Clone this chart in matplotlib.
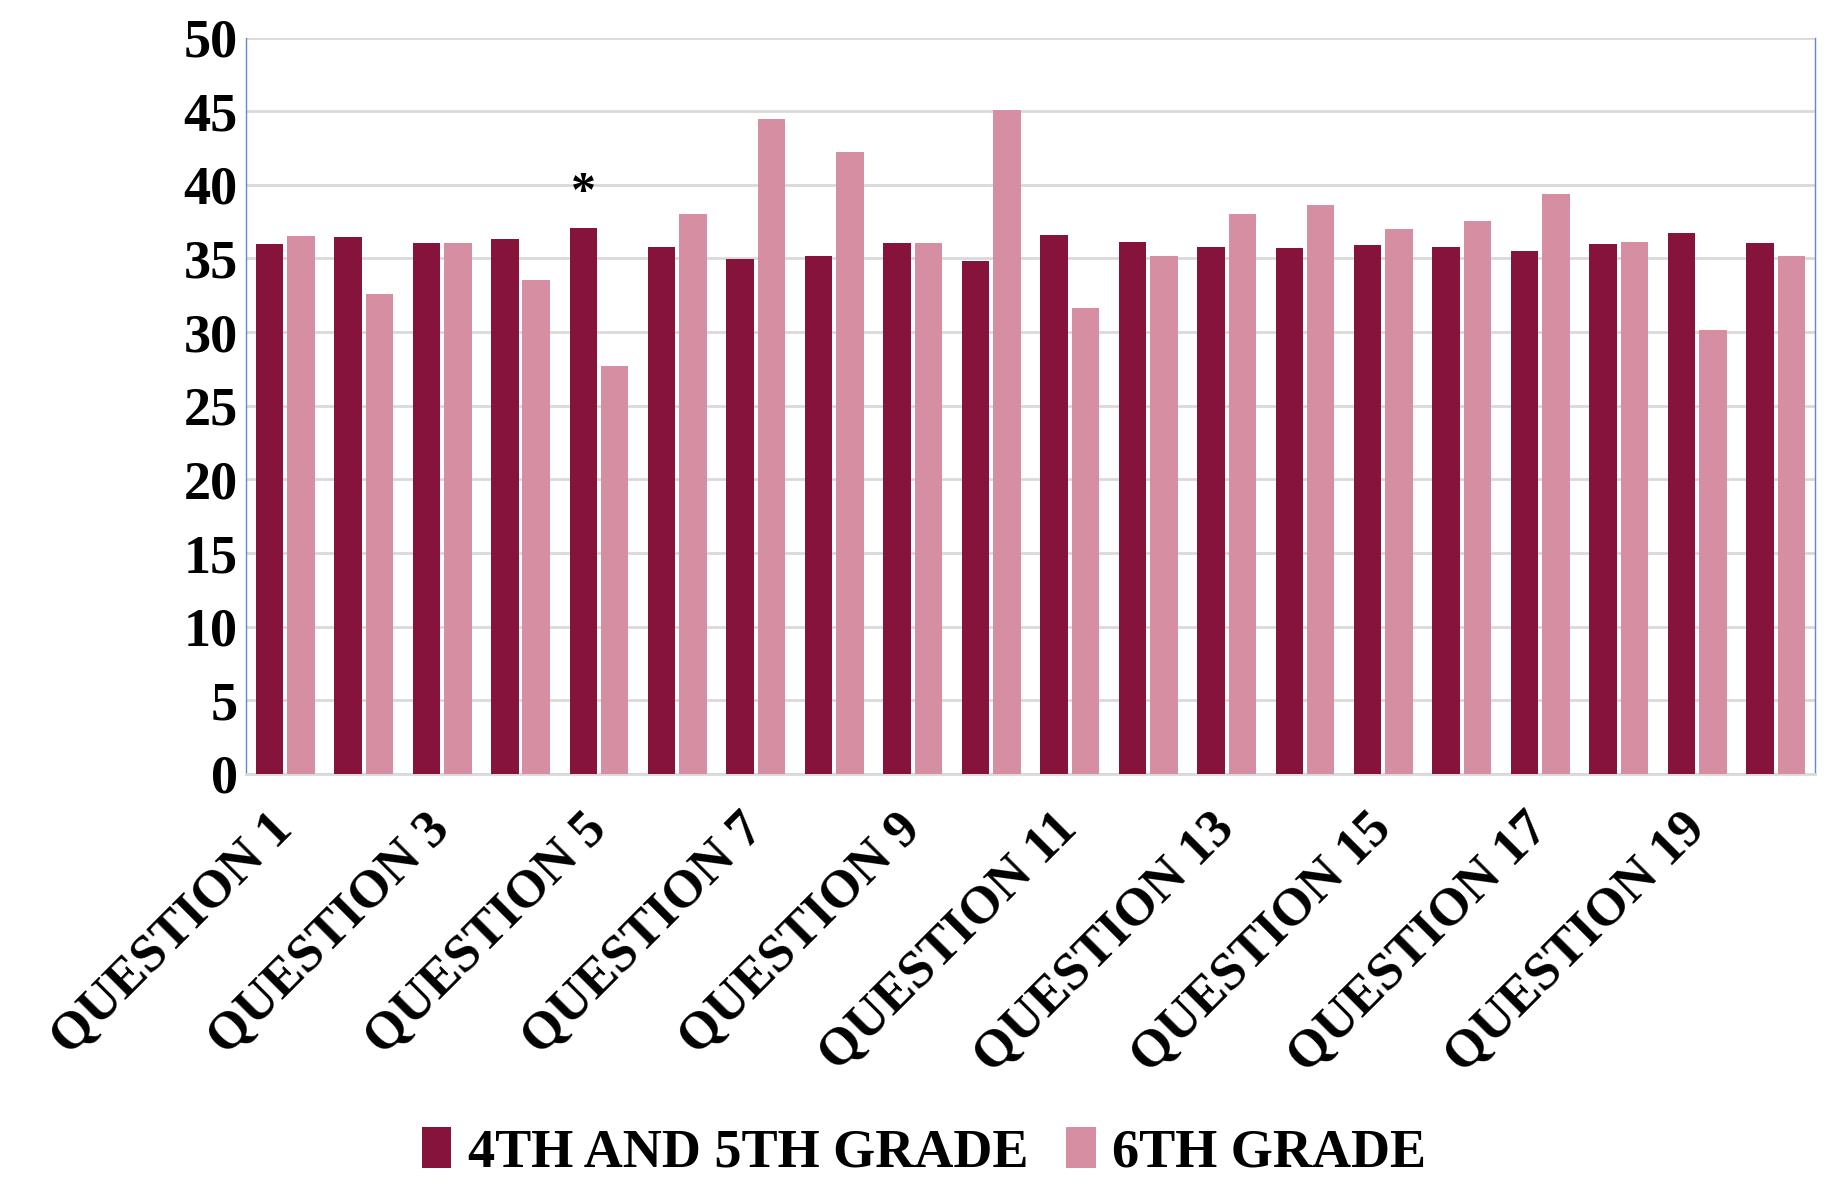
import matplotlib
matplotlib.use("Agg")
import matplotlib.pyplot as plt
import numpy as np

categories = [f"QUESTION {i}" for i in range(1, 21)]
grade_4_5 = [35.95, 36.43, 36.02, 36.29, 37.04, 35.75, 34.93, 35.2, 36.02, 34.86,
             36.56, 36.09, 35.75, 35.68, 35.88, 35.81, 35.54, 36.0, 36.76, 36.07]
grade_6 = [36.5, 32.62, 36.02, 33.57, 27.67, 38.05, 44.5, 42.26, 36.02, 45.05,
           31.61, 35.2, 38.05, 38.6, 36.97, 37.51, 39.41, 36.09, 30.11, 35.2]
series_names = ["4TH AND 5TH GRADE", "6TH GRADE"]
yticks = [0, 5, 10, 15, 20, 25, 30, 35, 40, 45, 50]

c_dark = "#85133B"
c_pink = "#D68EA2"
font = "Liberation Serif"

fig = plt.figure(figsize=(18.48, 11.8), dpi=100)
ax = fig.add_axes([0.1331, 0.3441, 0.9821 - 0.1331, 0.9682 - 0.3441])

x = np.arange(len(categories))
w = 0.35
ax.bar(x - 0.2, grade_4_5, width=w, color=c_dark, label=series_names[0], zorder=3)
ax.bar(x + 0.2, grade_6, width=w, color=c_pink, label=series_names[1], zorder=3)

ax.set_xlim(-0.5, len(categories) - 0.5)
ax.set_ylim(0, 50)
ax.set_yticks(yticks)
ax.set_yticklabels([str(v) for v in yticks], fontfamily=font, fontweight="bold", fontsize=39)
ax.tick_params(axis="y", length=0, pad=6)

ax.set_xticks(x[::2])
ax.set_xticklabels(categories[::2], rotation=45, ha="right", va="center",
                   rotation_mode="anchor", fontfamily=font, fontweight="bold", fontsize=38)
ax.tick_params(axis="x", length=0, pad=34)

ax.grid(axis="y", color="#D9D9D9", linewidth=2, zorder=0)
ax.set_axisbelow(True)
for s in ["left", "right"]:
    ax.spines[s].set_color("#5B8BD6")
    ax.spines[s].set_linewidth(1)
ax.spines["top"].set_visible(False)
ax.spines["bottom"].set_color("#D9D9D9")
ax.spines["bottom"].set_linewidth(2)

ax.text(4 - 0.2, 39.4, "*", ha="center", va="center", fontfamily=font,
        fontweight="bold", fontsize=36)

leg = fig.legend(loc="lower center", bbox_to_anchor=(0.5, -0.04), ncol=2, frameon=False,
                 prop={"family": font, "weight": "bold", "size": 39},
                 handlelength=0.55, handleheight=0.8, handletextpad=0.3, columnspacing=0.7)

fig.savefig("out.png", dpi=100)
